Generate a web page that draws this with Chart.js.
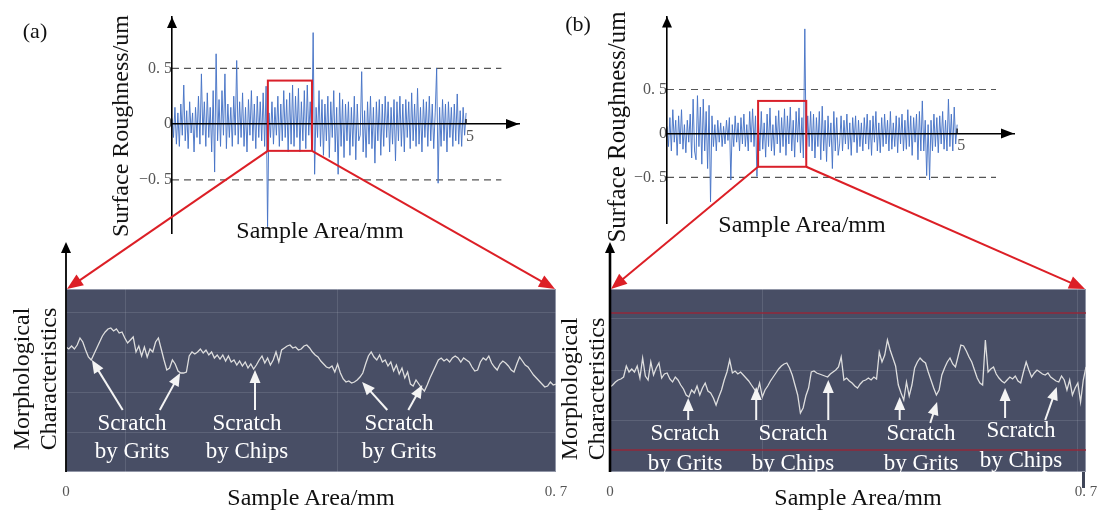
<!DOCTYPE html>
<html><head><meta charset="utf-8">
<script src="https://cdn.jsdelivr.net/npm/chart.js@4.4.1/dist/chart.umd.min.js"></script>
<style>
html,body{margin:0;padding:0;background:#fff;}
#page{position:relative;width:1100px;height:515px;overflow:hidden;background:#fff;font-family:"Liberation Serif","Times New Roman",serif;}
canvas.c{position:absolute;}
#overlay{position:absolute;left:0;top:0;z-index:5;pointer-events:none;}
.t{position:absolute;white-space:nowrap;color:#111;line-height:1;transform:translate(-50%,-50%);z-index:10;}
.rot{transform:translate(-50%,-50%) rotate(-90deg);}
.ann{position:absolute;white-space:nowrap;color:#fff;text-align:center;transform:translateX(-50%);font-size:23px;z-index:10;}
</style></head><body>
<div id="page">
<canvas id="topA" class="c" style="left:100px;top:0px" width="440" height="250"></canvas>
<canvas id="topB" class="c" style="left:600px;top:0px" width="440" height="250"></canvas>
<canvas id="botA" class="c" style="left:0px;top:230px" width="570" height="285"></canvas>
<canvas id="botB" class="c" style="left:560px;top:230px" width="540" height="285"></canvas>
<canvas id="overlay" width="1100" height="515"></canvas>

<div class="t" style="left:35px;top:31px;font-size:22px">(a)</div>
<div class="t" style="left:578px;top:24px;font-size:22px">(b)</div>
<div class="t rot" style="left:120px;top:126px;font-size:24px">Surface Roughness/um</div>
<div class="t rot" style="left:616px;top:127px;font-size:25px">Surface Roughness/um</div>
<div class="t" style="left:320px;top:230px;font-size:24px">Sample Area/mm</div>
<div class="t" style="left:802px;top:224px;font-size:24px">Sample Area/mm</div>
<div class="t" style="left:311px;top:497px;font-size:24px">Sample Area/mm</div>
<div class="t" style="left:858px;top:497px;font-size:24px">Sample Area/mm</div>
<div class="t rot" style="left:21px;top:379px;font-size:24px">Morphological</div>
<div class="t rot" style="left:48px;top:379px;font-size:24px">Characteristics</div>
<div class="t rot" style="left:569px;top:389px;font-size:24px">Morphological</div>
<div class="t rot" style="left:596px;top:389px;font-size:24px">Characteristics</div>

<div class="ann" style="left:132px;top:409px;line-height:28px">Scratch<br>by Grits</div>
<div class="ann" style="left:247px;top:409px;line-height:28px">Scratch<br>by Chips</div>
<div class="ann" style="left:399px;top:409px;line-height:28px">Scratch<br>by Grits</div>
<div class="ann" style="left:685px;top:418px;line-height:30px">Scratch<br>by Grits</div>
<div class="ann" style="left:793px;top:418px;line-height:30px">Scratch<br>by Chips</div>
<div class="ann" style="left:921px;top:418px;line-height:30px">Scratch<br>by Grits</div>
<div class="ann" style="left:1021px;top:415px;line-height:30px">Scratch<br>by Chips</div>
</div>

<script>
// ---------- data ----------
const stepTop = 0.025; // mm between roughness samples
const roughA = [
0.05,-0.12,0.15,-0.18,0.1,-0.2,0.18,-0.1,0.35,-0.15,0.12,-0.22,0.2,-0.08,0.1,-0.25,0.15,-0.12,0.25,-0.18,
0.45,-0.1,0.2,-0.2,0.28,-0.12,0.15,-0.25,0.3,-0.43,0.63,-0.15,0.22,-0.2,0.3,-0.1,0.45,-0.22,0.18,-0.12,
0.15,-0.2,0.25,-0.1,0.57,-0.18,0.2,-0.12,0.28,-0.2,0.15,-0.25,0.22,-0.1,0.3,-0.15,0.18,-0.22,0.25,-0.12,
0.2,-0.15,0.28,-0.2,0.34,-0.92,0.1,-0.12,0.2,-0.18,0.15,-0.1,0.25,-0.2,0.18,-0.15,0.3,-0.12,0.22,-0.25,
0.28,-0.18,0.35,-0.2,0.25,-0.12,0.32,-0.25,0.2,-0.15,0.3,-0.22,0.35,-0.1,0.2,-0.2,0.82,-0.45,0.15,-0.12,
0.3,-0.2,0.22,-0.28,0.18,-0.15,0.25,-0.3,0.2,-0.12,0.3,-0.25,0.15,-0.45,0.28,-0.2,0.22,-0.3,0.18,-0.15,
0.2,-0.28,0.15,-0.2,0.25,-0.32,0.18,-0.15,-0.1,0.47,-0.25,0.12,-0.3,0.2,-0.18,0.25,-0.22,0.15,-0.35,0.2,
-0.15,0.22,-0.28,0.18,-0.2,0.25,-0.12,0.2,-0.25,0.15,-0.18,0.22,-0.33,0.2,-0.15,0.25,-0.2,0.18,-0.25,0.22,
-0.12,0.2,-0.22,0.28,-0.15,0.18,-0.2,0.32,-0.18,0.15,-0.25,0.22,-0.12,0.2,-0.2,0.25,-0.15,0.18,-0.22,0.1,
0.5,-0.53,0.15,-0.2,0.22,-0.15,0.18,-0.25,0.2,-0.12,0.15,-0.2,0.18,-0.15,0.27,-0.18,0.12,-0.2,0.15,-0.1,0.1
];
const roughB = [
0.08,-0.15,0.18,-0.2,0.27,-0.1,0.15,-0.25,0.2,-0.12,0.27,-0.18,0.1,-0.22,0.15,-0.1,0.22,-0.28,0.39,-0.2,
-0.3,0.43,-0.15,0.3,-0.35,0.39,-0.2,0.25,-0.4,0.32,-0.78,0.2,-0.15,0.1,-0.2,0.15,-0.1,0.12,-0.15,0.08,
-0.12,0.15,-0.08,0.18,-0.53,0.1,-0.15,0.2,-0.1,0.12,-0.2,0.18,-0.12,0.22,-0.15,0.1,-0.2,0.25,-0.1,0.28,
-0.15,0.2,-0.49,0.15,-0.2,0.25,-0.18,0.12,-0.27,0.22,-0.15,0.29,-0.2,0.1,-0.25,0.2,-0.12,0.26,-0.22,0.18,
-0.15,0.28,-0.25,0.2,-0.12,0.3,-0.2,0.15,-0.27,0.25,-0.1,0.29,-0.22,0.18,-0.28,1.19,-0.3,0.2,-0.15,0.25,
-0.2,0.22,-0.28,0.18,-0.15,0.25,-0.3,0.31,-0.2,0.15,-0.32,0.2,-0.15,0.12,-0.4,0.25,-0.2,0.18,-0.25,-0.12,
0.2,-0.2,0.15,-0.12,0.22,-0.18,0.12,-0.25,0.18,-0.1,0.2,-0.22,0.15,-0.15,0.12,-0.2,0.18,-0.12,0.22,-0.18,
0.15,-0.25,0.2,-0.1,0.25,-0.2,0.12,-0.22,0.18,-0.15,0.22,-0.12,0.15,-0.2,0.25,-0.18,0.12,-0.15,0.2,-0.22,
0.18,-0.12,0.22,-0.2,0.15,-0.18,0.27,-0.15,0.2,-0.25,0.18,-0.1,0.22,-0.3,0.25,-0.2,0.37,-0.2,0.15,-0.48,
0.1,-0.53,0.15,-0.2,0.22,-0.15,0.18,-0.22,0.2,-0.12,0.25,-0.18,0.15,-0.2,0.39,-0.15,0.22,-0.2,0.3,-0.12,0.1
];
const yTicksTop = [-0.5, 0, 0.5];
const yTickLabelsTop = ['\u22120. 5', '0', '0. 5'];
const xTicksTop = [5];
const xTickLabelsTop = ['5'];
const refLevels = [0.5, -0.5];
const refEndA = 5.6, refEndB = 5.67;
const windowA = {x0: 1.63, x1: 2.38, y0: -0.24, y1: 0.39};
const windowB = {x0: 1.57, x1: 2.40, y0: -0.38, y1: 0.37};

const stepBottom = 0.004; // mm between morphology samples
const morphA = [
125,123,126,123,127,134,130,122,115,112,
118,124,130,136,140,143,144,141,143,139,
140,134,129,132,135,120,126,116,125,115,
123,120,130,134,123,112,102,104,112,108,
101,99,99,100,116,120,118,120,123,119,
122,117,120,114,117,113,117,111,116,110,
112,107,111,106,110,104,108,103,107,112,
116,109,114,107,112,120,110,122,124,126,
127,124,125,122,123,126,127,124,120,117,
115,111,108,105,104,106,100,108,99,93,
90,91,89,90,92,95,99,108,116,120,
115,112,117,110,112,106,110,101,107,98,
104,94,100,88,86,92,88,84,81,87,
94,100,106,112,114,111,113,110,114,116,
114,110,114,112,110,105,101,102,110,114,
112,116,109,105,102,108,111,109,106,102,
100,108,115,111,107,105,101,97,94,91,
88,85,86,90,87,88
];
const morphB = [
85,87,90,92,93,95,106,100,103,100,
106,94,114,96,92,110,97,104,109,94,
98,99,93,90,95,92,87,83,77,75,
82,79,86,77,84,89,81,79,74,67,
75,82,92,100,112,99,101,98,100,97,
94,91,87,83,79,89,75,82,86,91,
95,99,103,106,108,109,104,97,87,77,
59,64,76,84,100,101,99,98,97,96,
95,98,100,102,105,115,92,94,91,89,
86,84,88,91,92,94,92,95,93,120,
110,117,132,122,114,106,87,79,72,90,
76,87,104,110,114,111,109,100,92,84,
77,82,97,104,110,114,108,105,116,127,
126,121,115,110,102,94,89,87,132,100,
103,105,98,94,91,89,92,95,93,96,
91,89,100,110,102,95,99,102,100,98,
97,99,95,93,91,90,96,92,82,92,
77,84,89,70,92,105
];
const xTicksBottom = [0, 0.7];
const xTickLabelsBottom = ['0', '0. 7'];
const tickRowBottom = -11; // x-axis label row sits just below the panel
const gridHA = [40, 80, 120, 160], gridXA = [0.084, 0.387];
const gridHB = [52, 102, 154], gridXB = [0.2235, 0.687];
const redLevelsB = [22, 159];
// arrows: [tailX, tailY, headX, headY] in data units
const arrowsA = [[0.081,62,0.037,112],[0.134,62,0.163,99],[0.27,62,0.27,102],[0.459,62,0.423,90],[0.489,62,0.509,87]];
const arrowsB = [[0.115,52,0.115,74],[0.215,52,0.215,85],[0.321,52,0.321,92],[0.426,52,0.426,75],[0.471,49,0.481,70],[0.581,54,0.581,84],[0.640,52,0.657,85]];

// ---------- helpers ----------
Chart.defaults.font.family = '"Liberation Serif","Times New Roman",serif';
function tri(ctx, tx, ty, ang, color, len, w){
  const bx = tx - len*Math.cos(ang), by = ty - len*Math.sin(ang);
  ctx.save(); ctx.fillStyle = color; ctx.beginPath();
  ctx.moveTo(tx, ty);
  ctx.lineTo(bx + w/2*Math.sin(ang), by - w/2*Math.cos(ang));
  ctx.lineTo(bx - w/2*Math.sin(ang), by + w/2*Math.cos(ang));
  ctx.closePath(); ctx.fill(); ctx.restore();
}
function arrowLine(ctx, x1, y1, x2, y2, color, lw, len, w){
  const ang = Math.atan2(y2-y1, x2-x1);
  ctx.save(); ctx.strokeStyle = color; ctx.lineWidth = lw;
  ctx.beginPath(); ctx.moveTo(x1, y1);
  ctx.lineTo(x2 - (len-2)*Math.cos(ang), y2 - (len-2)*Math.sin(ang)); ctx.stroke(); ctx.restore();
  tri(ctx, x2, y2, ang, color, len, w);
}

const axisArrows = {
  id: 'axisArrows',
  afterDraw(chart, args, opts){
    const {ctx, chartArea: a, scales: {x, y}} = chart;
    const y0 = y.getPixelForValue(0);
    tri(ctx, a.right, y0, 0, '#000', 13, 10);
    tri(ctx, a.left, a.top, -Math.PI/2, '#000', 11, 10);
    ctx.save(); ctx.strokeStyle = '#000'; ctx.lineWidth = 1.2;
    (opts.ticks || []).forEach(v => { const px = x.getPixelForValue(v); ctx.beginPath(); ctx.moveTo(px, y0); ctx.lineTo(px, y0-5); ctx.stroke(); });
    ctx.restore();
    const w = opts.win;
    if (w) {
      ctx.save(); ctx.strokeStyle = '#d9202a'; ctx.lineWidth = 2;
      const l = x.getPixelForValue(w.x0), r = x.getPixelForValue(w.x1), t = y.getPixelForValue(w.y1), b = y.getPixelForValue(w.y0);
      ctx.strokeRect(l, t, r-l, b-t); ctx.restore();
    }
  }
};

const panel = {
  id: 'panel',
  beforeDraw(chart, args, opts){
    const {ctx, chartArea: a} = chart;
    ctx.save(); ctx.fillStyle = '#484e65'; ctx.fillRect(a.left, a.top, a.right-a.left, a.bottom-a.top); ctx.restore();
  },
  beforeDatasetsDraw(chart, args, opts){
    const {ctx, chartArea: a, scales: {x, y}} = chart;
    ctx.save(); ctx.strokeStyle = 'rgba(200,205,220,0.16)'; ctx.lineWidth = 1;
    opts.gridH.forEach(v => { const py = Math.round(y.getPixelForValue(v))+0.5; ctx.beginPath(); ctx.moveTo(a.left, py); ctx.lineTo(a.right, py); ctx.stroke(); });
    opts.gridX.forEach(v => { const px = Math.round(x.getPixelForValue(v))+0.5; ctx.beginPath(); ctx.moveTo(px, a.top); ctx.lineTo(px, a.bottom); ctx.stroke(); });
    ctx.strokeStyle = 'rgba(205,210,222,0.55)';
    ctx.strokeRect(a.left+0.5, a.top+0.5, a.right-a.left-1, a.bottom-a.top-1);
    ctx.restore();
  },
  afterDatasetsDraw(chart, args, opts){
    const {ctx, scales: {x, y}} = chart;
    opts.arrows.forEach(r => arrowLine(ctx, x.getPixelForValue(r[0]), y.getPixelForValue(r[1]), x.getPixelForValue(r[2]), y.getPixelForValue(r[3]), '#f4f4f4', 2, 13, 11));
  },
  afterDraw(chart, args, opts){
    const {ctx, chartArea: a} = chart;
    const tipY = a.top - 47;
    ctx.save(); ctx.strokeStyle = '#000'; ctx.lineWidth = opts.axisW;
    ctx.beginPath(); ctx.moveTo(a.left, tipY + 6); ctx.lineTo(a.left, a.bottom); ctx.stroke(); ctx.restore();
    tri(ctx, a.left, tipY, -Math.PI/2, '#000', 11, 10);
    if (opts.endBar) { ctx.save(); ctx.fillStyle = '#3f4558'; ctx.fillRect(a.right-4, a.bottom, 3, 16); ctx.restore(); }
  }
};

function topChart(id, values, refEnd, win, yMin, yMax, xMax, pad){
  const ds = [{data: values.map((v,i) => ({x: i*stepTop, y: v})), borderColor: 'rgba(72,116,198,0.95)', borderWidth: 1, pointRadius: 0}];
  refLevels.forEach(l => ds.push({data: [{x:0, y:l}, {x:refEnd, y:l}], borderColor: '#555', borderWidth: 1.2, borderDash: [7,5], pointRadius: 0}));
  return new Chart(document.getElementById(id), {
    type: 'line',
    data: {datasets: ds},
    options: {
      responsive: false, animation: false, devicePixelRatio: 1,
      layout: {padding: pad},
      plugins: {legend: {display: false}, tooltip: {enabled: false}, axisArrows: {ticks: xTicksTop, win: win}},
      scales: {
        x: {type: 'linear', min: 0, max: xMax, position: {y: 0},
            grid: {display: false, drawTicks: false}, border: {display: true, color: '#000', width: 1.6, z: 1},
            afterBuildTicks: s => { s.ticks = xTicksTop.map(v => ({value: v})); },
            ticks: {callback: (v, i) => xTickLabelsTop[i], align: 'start', padding: 3, color: '#555', font: {size: 16}, maxRotation: 0, autoSkip: false}},
        y: {type: 'linear', min: yMin, max: yMax, position: {x: 0},
            grid: {display: false, drawTicks: false}, border: {display: true, color: '#000', width: 1.6, z: 1},
            afterBuildTicks: s => { s.ticks = yTicksTop.map(v => ({value: v})); },
            ticks: {callback: (v, i) => yTickLabelsTop[i], padding: 7, color: '#555', font: {size: 16}, autoSkip: false}}
      }
    },
    plugins: [axisArrows]
  });
}

function bottomChart(id, values, gridH, gridX, arrows, extra, pad, axisW, endBar){
  const ds = [{data: values.map((v,i) => ({x: i*stepBottom, y: v})), borderColor: '#dedede', borderWidth: 1.3, pointRadius: 0}];
  (extra || []).forEach(l => ds.push({data: [{x:0, y:l}, {x:0.7, y:l}], borderColor: 'rgba(150,38,55,0.95)', borderWidth: 1.6, pointRadius: 0}));
  return new Chart(document.getElementById(id), {
    type: 'line',
    data: {datasets: ds},
    options: {
      responsive: false, animation: false, devicePixelRatio: 1,
      layout: {padding: pad},
      plugins: {legend: {display: false}, tooltip: {enabled: false}, panel: {gridH, gridX, arrows, axisW, endBar}},
      scales: {
        x: {type: 'linear', min: 0, max: 0.7, position: {y: tickRowBottom},
            grid: {display: false, drawTicks: false}, border: {display: false},
            afterBuildTicks: s => { s.ticks = xTicksBottom.map(v => ({value: v})); },
            ticks: {callback: (v, i) => xTickLabelsBottom[i], padding: 0, color: '#555', font: {size: 15}, maxRotation: 0, autoSkip: false}},
        y: {type: 'linear', min: 0, max: 183, position: {x: 0}, display: false}
      }
    },
    plugins: [panel]
  });
}

const cTopA = topChart('topA', roughA, refEndA, windowA, -0.98, 0.96, 5.9, {left: 72, right: 21, top: 17, bottom: 10});
const cTopB = topChart('topB', roughB, refEndB, windowB, -1.02, 1.33, 5.98, {left: 67, right: 26, top: 2, bottom: 27});
const cBotA = bottomChart('botA', morphA, gridHA, gridXA, arrowsA, [], {left: 66, right: 14, top: 59, bottom: 43}, 1.8, false);
const cBotB = bottomChart('botB', morphB, gridHB, gridXB, arrowsB, redLevelsB, {left: 50, right: 14, top: 59, bottom: 43}, 2.6, true);

// ---------- red zoom connectors ----------
const octx = document.getElementById('overlay').getContext('2d');
function connect(top, bottom, win){
  const ox = top.canvas.offsetLeft, oy = top.canvas.offsetTop;
  const by0 = oy + top.scales.y.getPixelForValue(win.y0);
  const lx = ox + top.scales.x.getPixelForValue(win.x0), rx = ox + top.scales.x.getPixelForValue(win.x1);
  const bx = bottom.canvas.offsetLeft, by = bottom.canvas.offsetTop, a = bottom.chartArea;
  arrowLine(octx, lx, by0, bx + a.left + 1, by + a.top, '#dc1f26', 2, 16, 13);
  arrowLine(octx, rx, by0, bx + a.right - 1, by + a.top, '#dc1f26', 2, 16, 13);
}
connect(cTopA, cBotA, windowA);
connect(cTopB, cBotB, windowB);
</script>
</body></html>
